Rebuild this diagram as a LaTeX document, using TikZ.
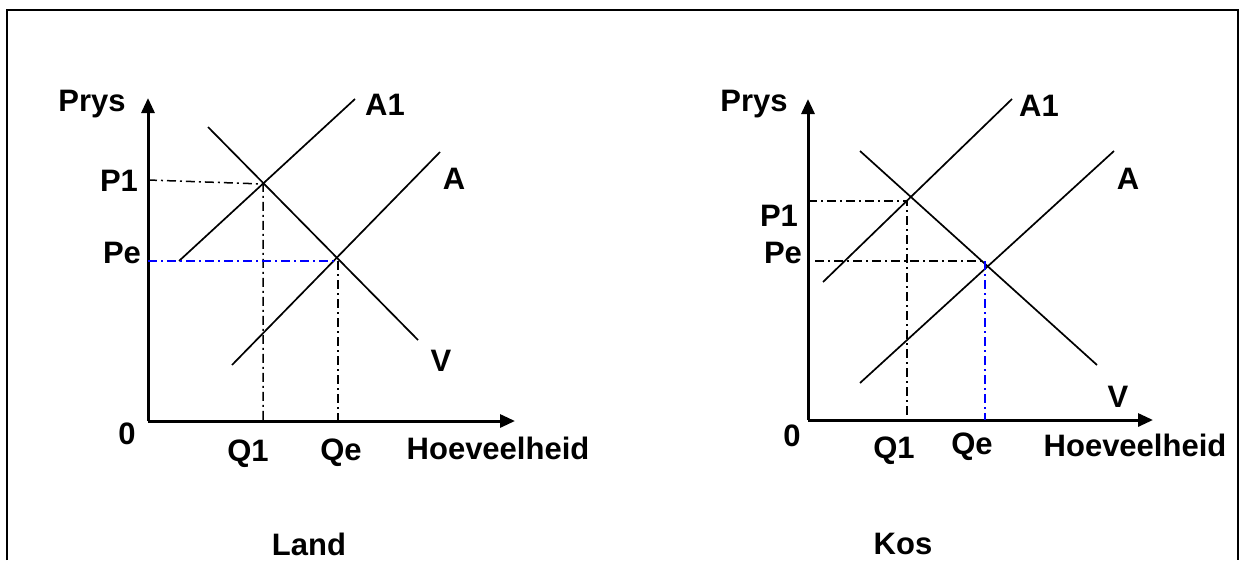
\documentclass[tikz,border=0pt]{standalone}
\usepackage{fontspec}
\setmainfont{Liberation Sans}
\usepackage{tikz}
\usetikzlibrary{arrows.meta,calc,positioning}

\begin{document}
\begin{tikzpicture}[x=1pt,y=-1pt,
  lbl/.style={font=\bfseries\fontsize{31}{33}\selectfont,inner sep=0pt},
  axis/.style={line width=3pt,-{Triangle[length=15pt,width=13pt]}},
  curve/.style={line width=1.7pt},
  hulp/.style={line width=1.5pt,dash pattern=on 9pt off 4pt on 2pt off 4pt}]
\useasboundingbox (0,0) rectangle (1244,560);
\draw[line width=2.6pt] (7,560) -- (7,10) -- (1238,10) -- (1238,560);
% Land
\coordinate (O1) at (148,421);
\draw[axis] (O1) -- (148,98) coordinate(Y1);
\draw[axis] (O1) -- (515,421) coordinate(X1);
\draw[curve] (179,261) -- (355,99);
\draw[curve] (232,365) -- (440,152);
\draw[curve] (208,127) -- (418,340);
\coordinate (E1) at (263,184);
\coordinate (E0) at (338,261);
\draw[hulp] (148,180) -- (E1) -- (E1 |- O1);
\draw[hulp,blue] (E0 -| O1) -- (E0);
\draw[hulp] (E0) -- (E0 |- O1);
\node[lbl] (prys1) at (92,104) {Prys};
\node[lbl] (p1a) at (119,181) {P1};
\node[lbl] (pe1) at (122,253) {Pe};
\node[lbl] (nul1) at (127,434) {0};
\node[lbl] (q1a) at (248,454) {Q1};
\node[lbl] (qe1) at (341,453) {Qe};
\node[lbl] (hv1) at (498,448) {Hoeveelheid};
\node[lbl] (a1l) at (385,105) {A1};
\node[lbl] (al) at (454,179) {A};
\node[lbl] (vl) at (441,361) {V};
\node[lbl] (land) at (309,544) {Land};
% Kos
\coordinate (O2) at (808,420);
\draw[axis] (O2) -- (808,99) coordinate(Y2);
\draw[axis] (O2) -- (1153,420) coordinate(X2);
\draw[curve] (823,282) -- (1012,99);
\draw[curve] (860,383) -- (1114,151);
\draw[curve] (860,151) -- (1097,365);
\coordinate (F1) at (907,201);
\coordinate (F0) at (985,261);
\draw[hulp] (F1 -| O2) -- (F1) -- (907,415);
\draw[hulp] (815,261) -- (F0);
\draw[hulp,blue] (F0) -- (F0 |- O2);
\node[lbl] (prys2) at (754,104) {Prys};
\node[lbl] (p1b) at (779,216) {P1};
\node[lbl] (pe2) at (783,253) {Pe};
\node[lbl] (nul2) at (792,436) {0};
\node[lbl] (q1b) at (894,451) {Q1};
\node[lbl] (qe2) at (972,447) {Qe};
\node[lbl] (hv2) at (1135,445) {Hoeveelheid};
\node[lbl] (b1l) at (1039,106) {A1};
\node[lbl] (bl) at (1128,179) {A};
\node[lbl] (wl) at (1118,397) {V};
\node[lbl] (kos) at (903,544) {Kos};
\end{tikzpicture}
\end{document}
